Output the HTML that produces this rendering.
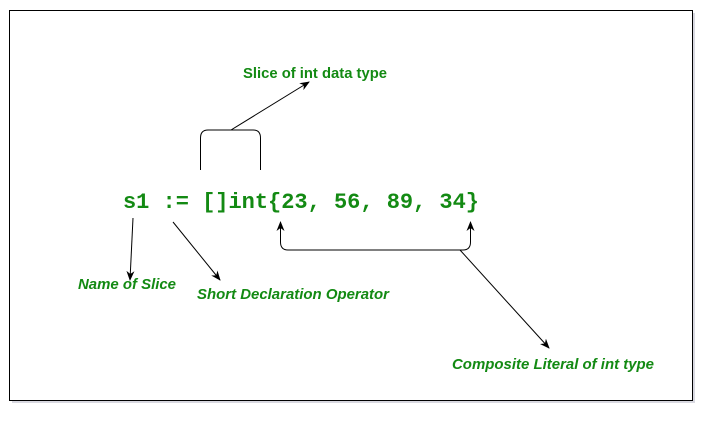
<!DOCTYPE html>
<html><head><style>
html,body{margin:0;padding:0;background:#fff;width:712px;height:422px;overflow:hidden}
</style></head><body>
<svg width="712" height="422" viewBox="0 0 712 422" xmlns="http://www.w3.org/2000/svg">
<defs>
<marker id="a" markerWidth="10" markerHeight="10" refX="9" refY="5" orient="auto-start-reverse" markerUnits="userSpaceOnUse">
<path d="M0,1 L10,5 L0,9 L3,5 Z" fill="#000"/>
</marker>
</defs>
<rect x="12" y="13" width="683" height="390" fill="#d8d8e0"/>
<rect x="9.5" y="10.5" width="683" height="390" fill="#fff" stroke="#000" stroke-width="1"/>
<g fill="none" stroke="#000" stroke-width="1">
<path d="M200.5,170 V138 Q200.5,130 208,130 H253 Q260.5,130 260.5,138 V170"/>
<line x1="231" y1="130" x2="309" y2="82" marker-end="url(#a)"/>
<line x1="133" y1="218" x2="130" y2="280" marker-end="url(#a)"/>
<line x1="173" y1="222" x2="220" y2="280" marker-end="url(#a)"/>
<path d="M280.5,222 V242 Q280.5,250 288,250 H463 Q470.5,250 470.5,242 V222" marker-start="url(#a)" marker-end="url(#a)"/>
<line x1="460" y1="250" x2="549" y2="348" marker-end="url(#a)"/>
</g>
<text x="123" y="208" font-family="Liberation Mono, monospace" font-weight="bold" font-size="22" fill="#138a13" textLength="356">s1 := []int{23, 56, 89, 34}</text>
<g font-family="Liberation Sans, sans-serif" font-weight="bold" font-size="15" fill="#138a13" lengthAdjust="spacingAndGlyphs">
<text x="243" y="78" textLength="144" lengthAdjust="spacingAndGlyphs">Slice of int data type</text>
<g font-style="italic">
<text x="78" y="289" textLength="98" lengthAdjust="spacingAndGlyphs">Name of Slice</text>
<text x="197" y="299" textLength="192" lengthAdjust="spacingAndGlyphs">Short Declaration Operator</text>
<text x="452" y="369" textLength="202" lengthAdjust="spacingAndGlyphs">Composite Literal of int type</text>
</g>
</g>
</svg>
</body></html>
